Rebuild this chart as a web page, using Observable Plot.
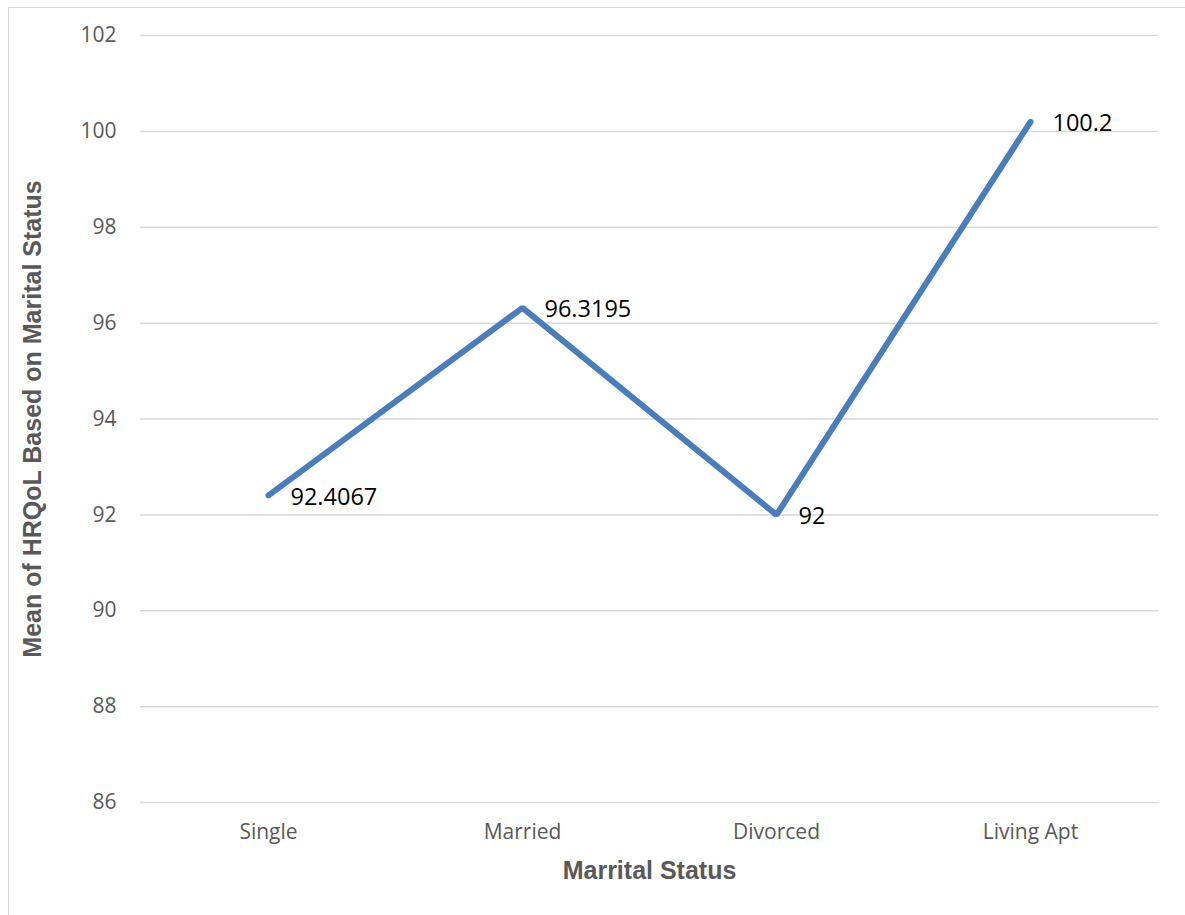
<!DOCTYPE html>
<html>
<head>
<meta charset="utf-8">
<script src="https://cdn.jsdelivr.net/npm/d3@7"></script>
<script src="https://cdn.jsdelivr.net/npm/@observablehq/plot@0.6"></script>
<style>
  html, body { margin: 0; padding: 0; background: #fff; }
  #wrap { position: relative; width: 1185px; height: 915px; overflow: hidden; }
  #frame { position: absolute; left: 8px; top: 7px; width: 1180px; height: 910px; border: 1.5px solid #d9d9d9; box-sizing: border-box; }
  #chart { position: absolute; left: 0; top: 0; }
</style>
</head>
<body>
<div id="wrap"><div id="frame"></div><div id="chart"></div></div>
<script>
const categories = ["Single", "Married", "Divorced", "Living Apt"];
const means = [92.4067, 96.3195, 92, 100.2];
const labels = ["92.4067", "96.3195", "92", "100.2"];
const yTicks = [86, 88, 90, 92, 94, 96, 98, 100, 102];
const xTitle = "Marrital Status";
const yTitle = "Mean of HRQoL Based on Marital Status";

const data = categories.map((c, i) => ({status: c, mean: means[i], label: labels[i]}));

const chart = Plot.plot({
  width: 1185,
  height: 915,
  marginLeft: 140,
  marginRight: 27,
  marginTop: 35,
  marginBottom: 113,
  style: {background: "transparent", fontFamily: "'Open Sans', sans-serif"},
  x: {type: "point", domain: categories, padding: 0.5},
  y: {domain: [86, 102]},
  marks: [
    Plot.gridY(yTicks, {stroke: "#d9d9d9", strokeOpacity: 1, strokeWidth: 1.5}),
    Plot.axisY(yTicks, {tickSize: 0, tickPadding: 24, fontSize: 21, fill: "#595959", label: null, tickFormat: d => String(d)}),
    Plot.axisX({tickSize: 0, tickPadding: 22, fontSize: 21, fill: "#595959", label: null}),
    Plot.line(data, {x: "status", y: "mean", stroke: "#4a7ebb", strokeWidth: 6, strokeLinecap: "round", strokeLinejoin: "miter"}),
    Plot.text(data, {x: "status", y: "mean", text: "label", textAnchor: "start", dx: 22, dy: 2, fontSize: 23.5, fill: "#000"}),
    Plot.text([xTitle], {frameAnchor: "bottom", textAnchor: "middle", dy: 76, fontSize: 25, fontWeight: "bold", fill: "#595959", fontFamily: "'Liberation Sans', Arial, sans-serif"}),
    Plot.text([yTitle], {frameAnchor: "left", textAnchor: "middle", dx: -108, rotate: -90, fontSize: 25, fontWeight: "bold", fill: "#595959", fontFamily: "'Liberation Sans', Arial, sans-serif"})
  ]
});
document.getElementById("chart").appendChild(chart);
</script>
</body>
</html>
